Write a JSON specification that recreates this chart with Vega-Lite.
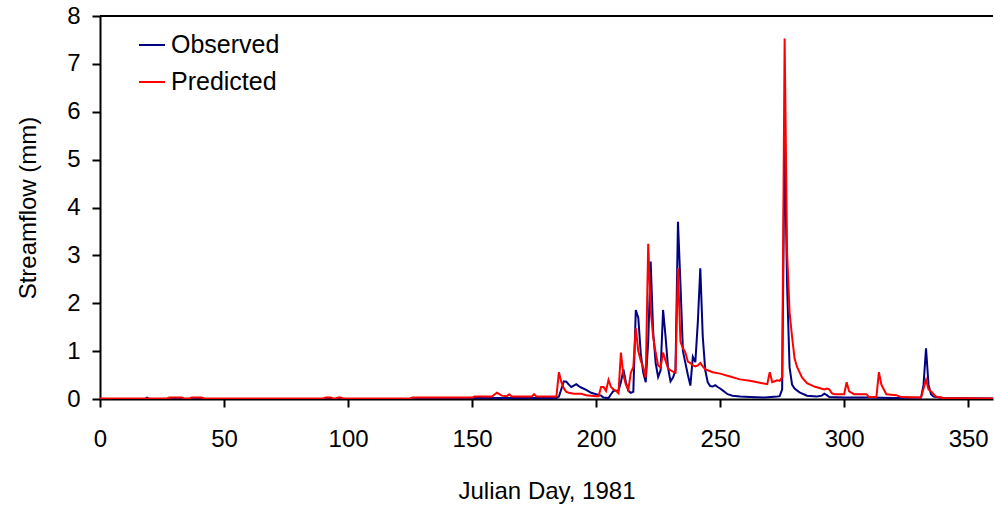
{
  "$schema": "https://vega.github.io/schema/vega-lite/v6.json",
  "width": 893,
  "height": 383,
  "autosize": {"type": "none"},
  "padding": {"left": 100, "top": 16, "right": 1, "bottom": 107},
  "background": "white",
  "config": {
    "view": {"stroke": null},
    "font": "Liberation Sans",
    "axis": {
      "labelFont": "Liberation Sans",
      "titleFont": "Liberation Sans",
      "labelColor": "black",
      "titleColor": "black",
      "labelFontSize": 24,
      "titleFontSize": 24,
      "titleFontWeight": "normal",
      "domainColor": "black",
      "domainWidth": 2,
      "tickColor": "black",
      "tickWidth": 2,
      "tickSize": 8,
      "grid": false
    },
    "legend": {
      "labelFont": "Liberation Sans",
      "labelFontSize": 25,
      "labelColor": "black"
    }
  },
  "data": {
    "values": [
      {"day": 0, "series": "Observed", "flow": 0},
      {"day": 18, "series": "Observed", "flow": 0},
      {"day": 19, "series": "Observed", "flow": 0.03},
      {"day": 20, "series": "Observed", "flow": 0},
      {"day": 27, "series": "Observed", "flow": 0},
      {"day": 28, "series": "Observed", "flow": 0.02},
      {"day": 33, "series": "Observed", "flow": 0.02},
      {"day": 34, "series": "Observed", "flow": 0},
      {"day": 36, "series": "Observed", "flow": 0},
      {"day": 37, "series": "Observed", "flow": 0.02},
      {"day": 41, "series": "Observed", "flow": 0.02},
      {"day": 42, "series": "Observed", "flow": 0},
      {"day": 90, "series": "Observed", "flow": 0},
      {"day": 91, "series": "Observed", "flow": 0.02},
      {"day": 93, "series": "Observed", "flow": 0.02},
      {"day": 94, "series": "Observed", "flow": 0},
      {"day": 95, "series": "Observed", "flow": 0},
      {"day": 96, "series": "Observed", "flow": 0.02},
      {"day": 97, "series": "Observed", "flow": 0.02},
      {"day": 98, "series": "Observed", "flow": 0},
      {"day": 125, "series": "Observed", "flow": 0},
      {"day": 126, "series": "Observed", "flow": 0.02},
      {"day": 150, "series": "Observed", "flow": 0.02},
      {"day": 175, "series": "Observed", "flow": 0.02},
      {"day": 184, "series": "Observed", "flow": 0.02},
      {"day": 185, "series": "Observed", "flow": 0.05},
      {"day": 187, "series": "Observed", "flow": 0.37},
      {"day": 188, "series": "Observed", "flow": 0.36},
      {"day": 189, "series": "Observed", "flow": 0.3},
      {"day": 190, "series": "Observed", "flow": 0.25},
      {"day": 191, "series": "Observed", "flow": 0.28},
      {"day": 192, "series": "Observed", "flow": 0.31},
      {"day": 193, "series": "Observed", "flow": 0.27},
      {"day": 194, "series": "Observed", "flow": 0.24},
      {"day": 196, "series": "Observed", "flow": 0.19},
      {"day": 198, "series": "Observed", "flow": 0.13},
      {"day": 200, "series": "Observed", "flow": 0.1},
      {"day": 202, "series": "Observed", "flow": 0.07},
      {"day": 203, "series": "Observed", "flow": 0.03},
      {"day": 205, "series": "Observed", "flow": 0.02},
      {"day": 206, "series": "Observed", "flow": 0.1},
      {"day": 207, "series": "Observed", "flow": 0.17},
      {"day": 209, "series": "Observed", "flow": 0.17},
      {"day": 210, "series": "Observed", "flow": 0.35},
      {"day": 211, "series": "Observed", "flow": 0.62},
      {"day": 212, "series": "Observed", "flow": 0.35},
      {"day": 213, "series": "Observed", "flow": 0.17},
      {"day": 214, "series": "Observed", "flow": 0.13},
      {"day": 215, "series": "Observed", "flow": 0.15},
      {"day": 216, "series": "Observed", "flow": 1.86},
      {"day": 217, "series": "Observed", "flow": 1.7},
      {"day": 218, "series": "Observed", "flow": 0.95},
      {"day": 219, "series": "Observed", "flow": 0.55},
      {"day": 220, "series": "Observed", "flow": 0.35},
      {"day": 221, "series": "Observed", "flow": 1.2},
      {"day": 222, "series": "Observed", "flow": 2.87},
      {"day": 223, "series": "Observed", "flow": 1.4},
      {"day": 224, "series": "Observed", "flow": 0.75},
      {"day": 225, "series": "Observed", "flow": 0.46},
      {"day": 226, "series": "Observed", "flow": 0.6},
      {"day": 227, "series": "Observed", "flow": 1.86},
      {"day": 228, "series": "Observed", "flow": 1.3},
      {"day": 229, "series": "Observed", "flow": 0.65},
      {"day": 230, "series": "Observed", "flow": 0.37},
      {"day": 231, "series": "Observed", "flow": 0.45},
      {"day": 232, "series": "Observed", "flow": 0.6},
      {"day": 233, "series": "Observed", "flow": 3.7},
      {"day": 234, "series": "Observed", "flow": 2.4},
      {"day": 235, "series": "Observed", "flow": 1.0},
      {"day": 236, "series": "Observed", "flow": 0.75},
      {"day": 237, "series": "Observed", "flow": 0.5},
      {"day": 238, "series": "Observed", "flow": 0.28},
      {"day": 239, "series": "Observed", "flow": 0.88},
      {"day": 240, "series": "Observed", "flow": 0.77},
      {"day": 241, "series": "Observed", "flow": 1.6},
      {"day": 242, "series": "Observed", "flow": 2.73},
      {"day": 243, "series": "Observed", "flow": 1.3},
      {"day": 244, "series": "Observed", "flow": 0.6},
      {"day": 245, "series": "Observed", "flow": 0.35},
      {"day": 246, "series": "Observed", "flow": 0.27},
      {"day": 247, "series": "Observed", "flow": 0.26},
      {"day": 248, "series": "Observed", "flow": 0.29},
      {"day": 249, "series": "Observed", "flow": 0.25},
      {"day": 250, "series": "Observed", "flow": 0.22},
      {"day": 251, "series": "Observed", "flow": 0.18},
      {"day": 252, "series": "Observed", "flow": 0.14},
      {"day": 253, "series": "Observed", "flow": 0.1},
      {"day": 255, "series": "Observed", "flow": 0.07},
      {"day": 258, "series": "Observed", "flow": 0.05},
      {"day": 262, "series": "Observed", "flow": 0.04},
      {"day": 268, "series": "Observed", "flow": 0.03},
      {"day": 273, "series": "Observed", "flow": 0.05},
      {"day": 274, "series": "Observed", "flow": 0.06},
      {"day": 275, "series": "Observed", "flow": 0.2},
      {"day": 276, "series": "Observed", "flow": 5.49},
      {"day": 277, "series": "Observed", "flow": 2.35},
      {"day": 278, "series": "Observed", "flow": 0.66},
      {"day": 279, "series": "Observed", "flow": 0.3},
      {"day": 280, "series": "Observed", "flow": 0.22},
      {"day": 282, "series": "Observed", "flow": 0.14},
      {"day": 285, "series": "Observed", "flow": 0.07},
      {"day": 289, "series": "Observed", "flow": 0.05},
      {"day": 291, "series": "Observed", "flow": 0.07},
      {"day": 292, "series": "Observed", "flow": 0.11},
      {"day": 293, "series": "Observed", "flow": 0.08},
      {"day": 294, "series": "Observed", "flow": 0.04},
      {"day": 300, "series": "Observed", "flow": 0.03},
      {"day": 310, "series": "Observed", "flow": 0.03},
      {"day": 320, "series": "Observed", "flow": 0.02},
      {"day": 331, "series": "Observed", "flow": 0.03},
      {"day": 332, "series": "Observed", "flow": 0.3},
      {"day": 333, "series": "Observed", "flow": 1.06},
      {"day": 334, "series": "Observed", "flow": 0.3},
      {"day": 335, "series": "Observed", "flow": 0.1},
      {"day": 336, "series": "Observed", "flow": 0.05},
      {"day": 340, "series": "Observed", "flow": 0.02},
      {"day": 360, "series": "Observed", "flow": 0.01},

      {"day": 0, "series": "Predicted", "flow": 0.01},
      {"day": 27, "series": "Predicted", "flow": 0.01},
      {"day": 28, "series": "Predicted", "flow": 0.03},
      {"day": 33, "series": "Predicted", "flow": 0.03},
      {"day": 34, "series": "Predicted", "flow": 0.01},
      {"day": 36, "series": "Predicted", "flow": 0.01},
      {"day": 37, "series": "Predicted", "flow": 0.03},
      {"day": 41, "series": "Predicted", "flow": 0.03},
      {"day": 42, "series": "Predicted", "flow": 0.01},
      {"day": 90, "series": "Predicted", "flow": 0.01},
      {"day": 91, "series": "Predicted", "flow": 0.03},
      {"day": 93, "series": "Predicted", "flow": 0.03},
      {"day": 94, "series": "Predicted", "flow": 0.01},
      {"day": 95, "series": "Predicted", "flow": 0.01},
      {"day": 96, "series": "Predicted", "flow": 0.03},
      {"day": 97, "series": "Predicted", "flow": 0.03},
      {"day": 98, "series": "Predicted", "flow": 0.01},
      {"day": 125, "series": "Predicted", "flow": 0.01},
      {"day": 126, "series": "Predicted", "flow": 0.03},
      {"day": 150, "series": "Predicted", "flow": 0.03},
      {"day": 151, "series": "Predicted", "flow": 0.05},
      {"day": 158, "series": "Predicted", "flow": 0.05},
      {"day": 160, "series": "Predicted", "flow": 0.13},
      {"day": 162, "series": "Predicted", "flow": 0.07},
      {"day": 164, "series": "Predicted", "flow": 0.06},
      {"day": 165, "series": "Predicted", "flow": 0.1},
      {"day": 166, "series": "Predicted", "flow": 0.05},
      {"day": 174, "series": "Predicted", "flow": 0.05},
      {"day": 175, "series": "Predicted", "flow": 0.1},
      {"day": 176, "series": "Predicted", "flow": 0.05},
      {"day": 184, "series": "Predicted", "flow": 0.05},
      {"day": 185, "series": "Predicted", "flow": 0.56},
      {"day": 186, "series": "Predicted", "flow": 0.35},
      {"day": 187, "series": "Predicted", "flow": 0.22},
      {"day": 188, "series": "Predicted", "flow": 0.15},
      {"day": 189, "series": "Predicted", "flow": 0.13},
      {"day": 191, "series": "Predicted", "flow": 0.11},
      {"day": 194, "series": "Predicted", "flow": 0.11},
      {"day": 196, "series": "Predicted", "flow": 0.08},
      {"day": 198, "series": "Predicted", "flow": 0.07},
      {"day": 200, "series": "Predicted", "flow": 0.06},
      {"day": 201, "series": "Predicted", "flow": 0.06},
      {"day": 202, "series": "Predicted", "flow": 0.25},
      {"day": 203, "series": "Predicted", "flow": 0.25},
      {"day": 204, "series": "Predicted", "flow": 0.17},
      {"day": 205, "series": "Predicted", "flow": 0.4},
      {"day": 206, "series": "Predicted", "flow": 0.25},
      {"day": 207, "series": "Predicted", "flow": 0.2},
      {"day": 208, "series": "Predicted", "flow": 0.17},
      {"day": 209, "series": "Predicted", "flow": 0.12},
      {"day": 210, "series": "Predicted", "flow": 0.97},
      {"day": 211, "series": "Predicted", "flow": 0.5},
      {"day": 212, "series": "Predicted", "flow": 0.3},
      {"day": 213, "series": "Predicted", "flow": 0.2},
      {"day": 214, "series": "Predicted", "flow": 0.55},
      {"day": 215, "series": "Predicted", "flow": 0.67},
      {"day": 216, "series": "Predicted", "flow": 1.48},
      {"day": 217, "series": "Predicted", "flow": 1.0},
      {"day": 218, "series": "Predicted", "flow": 0.8},
      {"day": 219, "series": "Predicted", "flow": 0.66},
      {"day": 220, "series": "Predicted", "flow": 0.45},
      {"day": 221, "series": "Predicted", "flow": 3.24},
      {"day": 222, "series": "Predicted", "flow": 1.86},
      {"day": 223, "series": "Predicted", "flow": 1.3},
      {"day": 224, "series": "Predicted", "flow": 0.97},
      {"day": 225, "series": "Predicted", "flow": 0.7},
      {"day": 226, "series": "Predicted", "flow": 0.66},
      {"day": 227, "series": "Predicted", "flow": 0.97},
      {"day": 228, "series": "Predicted", "flow": 0.8},
      {"day": 229, "series": "Predicted", "flow": 0.64},
      {"day": 230, "series": "Predicted", "flow": 0.6},
      {"day": 231, "series": "Predicted", "flow": 0.57},
      {"day": 232, "series": "Predicted", "flow": 0.55},
      {"day": 233, "series": "Predicted", "flow": 2.73},
      {"day": 234, "series": "Predicted", "flow": 1.2},
      {"day": 235, "series": "Predicted", "flow": 1.06},
      {"day": 236, "series": "Predicted", "flow": 0.97},
      {"day": 237, "series": "Predicted", "flow": 0.78},
      {"day": 238, "series": "Predicted", "flow": 0.75},
      {"day": 239, "series": "Predicted", "flow": 0.7},
      {"day": 240, "series": "Predicted", "flow": 0.68},
      {"day": 241, "series": "Predicted", "flow": 0.7},
      {"day": 242, "series": "Predicted", "flow": 0.75},
      {"day": 243, "series": "Predicted", "flow": 0.68},
      {"day": 244, "series": "Predicted", "flow": 0.62},
      {"day": 245, "series": "Predicted", "flow": 0.6},
      {"day": 247, "series": "Predicted", "flow": 0.56},
      {"day": 250, "series": "Predicted", "flow": 0.53},
      {"day": 254, "series": "Predicted", "flow": 0.47},
      {"day": 258, "series": "Predicted", "flow": 0.41},
      {"day": 262, "series": "Predicted", "flow": 0.38},
      {"day": 267, "series": "Predicted", "flow": 0.33},
      {"day": 269, "series": "Predicted", "flow": 0.31},
      {"day": 270, "series": "Predicted", "flow": 0.56},
      {"day": 271, "series": "Predicted", "flow": 0.35},
      {"day": 272, "series": "Predicted", "flow": 0.37},
      {"day": 273, "series": "Predicted", "flow": 0.39},
      {"day": 274, "series": "Predicted", "flow": 0.38},
      {"day": 275, "series": "Predicted", "flow": 0.45},
      {"day": 276, "series": "Predicted", "flow": 7.53},
      {"day": 277, "series": "Predicted", "flow": 3.04},
      {"day": 278, "series": "Predicted", "flow": 1.8},
      {"day": 279, "series": "Predicted", "flow": 1.3},
      {"day": 280, "series": "Predicted", "flow": 0.85},
      {"day": 281, "series": "Predicted", "flow": 0.67},
      {"day": 283, "series": "Predicted", "flow": 0.45},
      {"day": 285, "series": "Predicted", "flow": 0.33},
      {"day": 288, "series": "Predicted", "flow": 0.26},
      {"day": 290, "series": "Predicted", "flow": 0.23},
      {"day": 292, "series": "Predicted", "flow": 0.2},
      {"day": 293, "series": "Predicted", "flow": 0.22},
      {"day": 294, "series": "Predicted", "flow": 0.2},
      {"day": 295, "series": "Predicted", "flow": 0.12},
      {"day": 296, "series": "Predicted", "flow": 0.1},
      {"day": 300, "series": "Predicted", "flow": 0.1},
      {"day": 301, "series": "Predicted", "flow": 0.35},
      {"day": 302, "series": "Predicted", "flow": 0.16},
      {"day": 304, "series": "Predicted", "flow": 0.1},
      {"day": 309, "series": "Predicted", "flow": 0.1},
      {"day": 310, "series": "Predicted", "flow": 0.04},
      {"day": 313, "series": "Predicted", "flow": 0.04},
      {"day": 314, "series": "Predicted", "flow": 0.56},
      {"day": 315, "series": "Predicted", "flow": 0.3},
      {"day": 317, "series": "Predicted", "flow": 0.1},
      {"day": 321, "series": "Predicted", "flow": 0.08},
      {"day": 323, "series": "Predicted", "flow": 0.04},
      {"day": 331, "series": "Predicted", "flow": 0.03},
      {"day": 333, "series": "Predicted", "flow": 0.4},
      {"day": 334, "series": "Predicted", "flow": 0.2},
      {"day": 335, "series": "Predicted", "flow": 0.16},
      {"day": 337, "series": "Predicted", "flow": 0.05},
      {"day": 340, "series": "Predicted", "flow": 0.02},
      {"day": 360, "series": "Predicted", "flow": 0.01}
    ]
  },
  "layer": [
    {
      "mark": {"type": "line", "strokeWidth": 2, "clip": true},
      "encoding": {
        "x": {
          "field": "day",
          "type": "quantitative",
          "scale": {"domain": [0, 360], "nice": false, "zero": false},
          "axis": {
            "title": "Julian Day, 1981",
            "values": [0, 50, 100, 150, 200, 250, 300, 350],
            "labelPadding": 20,
            "titlePadding": 28,
            "labelFlush": false
          }
        },
        "y": {
          "field": "flow",
          "type": "quantitative",
          "scale": {"domain": [0, 8], "nice": false},
          "axis": {
            "title": "Streamflow (mm)",
            "values": [0, 1, 2, 3, 4, 5, 6, 7, 8],
            "labelPadding": 12,
            "titlePadding": 26
          }
        },
        "color": {
          "field": "series",
          "type": "nominal",
          "scale": {"domain": ["Observed", "Predicted"], "range": ["#000080", "#ff0000"]},
          "legend": {
            "title": null,
            "orient": "none",
            "legendX": 38,
            "legendY": 15,
            "symbolType": "stroke",
            "symbolSize": 676,
            "symbolStrokeWidth": 2,
            "labelOffset": 5,
            "rowPadding": 10,
            "padding": 0
          }
        }
      }
    },
    {
      "mark": {"type": "rule", "color": "black", "strokeWidth": 2},
      "encoding": {"y": {"datum": 8}}
    }
  ]
}
